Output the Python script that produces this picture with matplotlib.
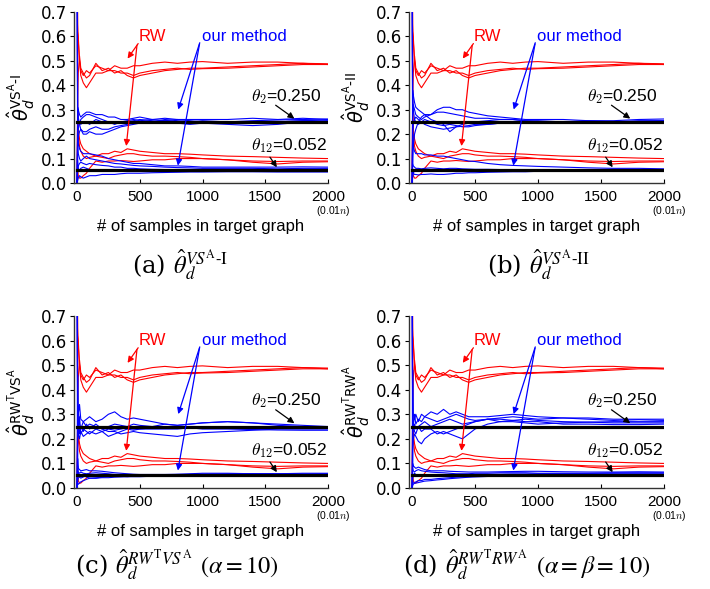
import matplotlib
matplotlib.use("Agg")
import matplotlib.pyplot as plt

SANS = ['Liberation Sans', 'DejaVu Sans']
WIDE = ['DejaVu Sans']
SERIF = ['DejaVu Serif']

X = [1, 5, 10, 20, 30, 50, 75, 100, 150, 200, 250, 300, 350, 400, 450, 500,
     600, 700, 800, 900, 1000, 1200, 1400, 1600, 1800, 2000]

THETA2 = 0.250
THETA12 = 0.052

# RW estimates (same in all four panels)
RW_HIGH = [
    [1.0, 0.65, 0.58, 0.5, 0.46, 0.44, 0.46, 0.45, 0.48, 0.47, 0.46, 0.48, 0.47, 0.47, 0.48, 0.48, 0.49, 0.495, 0.49, 0.495, 0.497, 0.49, 0.495, 0.495, 0.49, 0.488],
    [0.0, 0.35, 0.45, 0.52, 0.47, 0.45, 0.43, 0.44, 0.49, 0.46, 0.47, 0.45, 0.46, 0.44, 0.43, 0.44, 0.45, 0.46, 0.465, 0.47, 0.47, 0.475, 0.48, 0.485, 0.49, 0.485],
    [1.0, 0.62, 0.6, 0.5, 0.44, 0.41, 0.39, 0.41, 0.45, 0.45, 0.46, 0.46, 0.45, 0.45, 0.44, 0.45, 0.46, 0.465, 0.47, 0.465, 0.468, 0.47, 0.475, 0.48, 0.485, 0.485],
]
RW_LOW = [
    [0.0, 0.3, 0.22, 0.18, 0.16, 0.14, 0.13, 0.12, 0.11, 0.12, 0.12, 0.13, 0.125, 0.14, 0.135, 0.13, 0.125, 0.12, 0.12, 0.118, 0.115, 0.11, 0.108, 0.105, 0.102, 0.1],
    [1.0, 0.25, 0.2, 0.15, 0.13, 0.11, 0.1, 0.105, 0.11, 0.105, 0.1, 0.11, 0.115, 0.12, 0.12, 0.115, 0.11, 0.11, 0.108, 0.105, 0.1, 0.095, 0.09, 0.088, 0.09, 0.09],
    [0.0, 0.05, 0.03, 0.02, 0.02, 0.03, 0.04, 0.06, 0.09, 0.085, 0.09, 0.09, 0.092, 0.09, 0.088, 0.09, 0.095, 0.095, 0.1, 0.1, 0.1, 0.095, 0.085, 0.078, 0.085, 0.087],
]

# our method, panel (a)
A_HIGH = [
    [0.0, 0.31, 0.3, 0.28, 0.27, 0.28, 0.29, 0.29, 0.28, 0.28, 0.27, 0.27, 0.26, 0.26, 0.265, 0.27, 0.26, 0.265, 0.26, 0.26, 0.26, 0.26, 0.265, 0.26, 0.265, 0.26],
    [1.0, 0.28, 0.25, 0.24, 0.26, 0.27, 0.28, 0.28, 0.27, 0.26, 0.25, 0.24, 0.25, 0.255, 0.26, 0.255, 0.26, 0.255, 0.25, 0.25, 0.255, 0.25, 0.255, 0.258, 0.26, 0.262],
    [0.0, 0.2, 0.22, 0.25, 0.24, 0.25, 0.25, 0.24, 0.26, 0.25, 0.25, 0.25, 0.245, 0.25, 0.255, 0.26, 0.255, 0.25, 0.245, 0.24, 0.245, 0.24, 0.235, 0.24, 0.25, 0.255],
    [1.0, 0.3, 0.27, 0.24, 0.22, 0.21, 0.21, 0.22, 0.23, 0.22, 0.22, 0.23, 0.235, 0.24, 0.245, 0.25, 0.25, 0.26, 0.255, 0.25, 0.25, 0.245, 0.25, 0.25, 0.255, 0.258],
    [0.0, 0.15, 0.19, 0.21, 0.22, 0.2, 0.2, 0.21, 0.2, 0.2, 0.21, 0.22, 0.23, 0.235, 0.24, 0.245, 0.25, 0.255, 0.26, 0.255, 0.25, 0.25, 0.245, 0.25, 0.255, 0.25],
]
A_LOW = [
    [0.0, 0.2, 0.16, 0.14, 0.13, 0.12, 0.12, 0.12, 0.115, 0.11, 0.1, 0.095, 0.09, 0.085, 0.08, 0.08, 0.075, 0.07, 0.07, 0.068, 0.065, 0.065, 0.065, 0.065, 0.066, 0.065],
    [1.0, 0.15, 0.12, 0.1, 0.09, 0.1, 0.11, 0.1, 0.095, 0.09, 0.085, 0.08, 0.078, 0.075, 0.072, 0.07, 0.068, 0.065, 0.063, 0.062, 0.06, 0.06, 0.06, 0.058, 0.06, 0.06],
    [0.0, 0.05, 0.07, 0.08, 0.085, 0.08, 0.075, 0.08, 0.075, 0.072, 0.07, 0.065, 0.065, 0.06, 0.06, 0.058, 0.056, 0.055, 0.055, 0.054, 0.053, 0.054, 0.055, 0.055, 0.056, 0.056],
    [1.0, 0.1, 0.06, 0.05, 0.06, 0.065, 0.06, 0.055, 0.05, 0.05, 0.048, 0.05, 0.052, 0.05, 0.05, 0.05, 0.05, 0.05, 0.05, 0.05, 0.05, 0.05, 0.05, 0.049, 0.05, 0.05],
    [0.0, 0.01, 0.02, 0.03, 0.025, 0.02, 0.025, 0.03, 0.03, 0.035, 0.035, 0.035, 0.038, 0.04, 0.04, 0.04, 0.042, 0.043, 0.044, 0.045, 0.045, 0.046, 0.046, 0.045, 0.045, 0.045],
]

# panel (b)
B_HIGH = [
    [0.0, 0.38, 0.36, 0.33, 0.31, 0.3, 0.29, 0.28, 0.28, 0.3, 0.31, 0.31, 0.3, 0.3, 0.29, 0.285, 0.275, 0.27, 0.265, 0.26, 0.26, 0.26, 0.255, 0.255, 0.26, 0.262],
    [1.0, 0.3, 0.32, 0.3, 0.28, 0.27, 0.26, 0.27, 0.28, 0.29, 0.29, 0.285, 0.28, 0.275, 0.27, 0.265, 0.265, 0.26, 0.26, 0.255, 0.255, 0.25, 0.25, 0.25, 0.255, 0.255],
    [0.0, 0.1, 0.15, 0.2, 0.22, 0.25, 0.27, 0.28, 0.26, 0.25, 0.24, 0.21, 0.23, 0.24, 0.245, 0.25, 0.255, 0.26, 0.26, 0.255, 0.25, 0.25, 0.255, 0.25, 0.25, 0.25],
    [1.0, 0.35, 0.3, 0.26, 0.25, 0.24, 0.25, 0.26, 0.25, 0.24, 0.235, 0.24, 0.235, 0.23, 0.23, 0.235, 0.24, 0.245, 0.25, 0.25, 0.25, 0.245, 0.245, 0.248, 0.25, 0.25],
    [0.0, 0.2, 0.24, 0.26, 0.27, 0.26, 0.25, 0.24, 0.23, 0.225, 0.22, 0.225, 0.23, 0.232, 0.235, 0.24, 0.24, 0.245, 0.245, 0.25, 0.25, 0.25, 0.25, 0.25, 0.252, 0.255],
]
B_LOW = [
    [0.0, 0.2, 0.15, 0.13, 0.12, 0.12, 0.12, 0.115, 0.115, 0.11, 0.11, 0.105, 0.1, 0.095, 0.09, 0.088, 0.08, 0.075, 0.072, 0.07, 0.068, 0.065, 0.062, 0.06, 0.06, 0.058],
    [1.0, 0.08, 0.07, 0.065, 0.06, 0.06, 0.058, 0.06, 0.062, 0.06, 0.058, 0.06, 0.06, 0.058, 0.057, 0.056, 0.056, 0.055, 0.055, 0.055, 0.055, 0.054, 0.054, 0.054, 0.055, 0.055],
    [0.0, 0.02, 0.04, 0.05, 0.05, 0.052, 0.05, 0.05, 0.05, 0.048, 0.05, 0.05, 0.05, 0.051, 0.052, 0.052, 0.052, 0.053, 0.053, 0.052, 0.052, 0.052, 0.052, 0.052, 0.052, 0.053],
    [1.0, 0.05, 0.04, 0.035, 0.035, 0.033, 0.035, 0.035, 0.037, 0.035, 0.035, 0.037, 0.04, 0.04, 0.042, 0.042, 0.044, 0.045, 0.046, 0.046, 0.048, 0.048, 0.048, 0.05, 0.05, 0.05],
]

# panel (c)
C_HIGH = [
    [0.0, 0.46, 0.3, 0.34, 0.28, 0.27, 0.28, 0.29, 0.27, 0.28, 0.3, 0.31, 0.29, 0.28, 0.285, 0.28, 0.27, 0.26, 0.255, 0.26, 0.265, 0.27, 0.265, 0.26, 0.255, 0.25],
    [1.0, 0.3, 0.32, 0.26, 0.24, 0.27, 0.25, 0.26, 0.25, 0.24, 0.25, 0.26, 0.255, 0.25, 0.26, 0.255, 0.25, 0.26, 0.255, 0.26, 0.265, 0.27, 0.265, 0.255, 0.25, 0.248],
    [0.0, 0.2, 0.25, 0.29, 0.22, 0.24, 0.23, 0.22, 0.24, 0.23, 0.21, 0.22, 0.23, 0.24, 0.235, 0.24, 0.245, 0.25, 0.25, 0.25, 0.25, 0.245, 0.245, 0.25, 0.25, 0.245],
    [1.0, 0.35, 0.28, 0.22, 0.25, 0.23, 0.26, 0.24, 0.26, 0.24, 0.23, 0.23, 0.22, 0.225, 0.23, 0.225, 0.22, 0.215, 0.21, 0.22, 0.225, 0.23, 0.235, 0.24, 0.24, 0.24],
    [0.0, 0.28, 0.22, 0.2, 0.23, 0.21, 0.22, 0.23, 0.22, 0.23, 0.24, 0.235, 0.24, 0.245, 0.24, 0.24, 0.24, 0.24, 0.24, 0.245, 0.24, 0.24, 0.238, 0.236, 0.235, 0.235],
]
C_LOW = [
    [0.0, 0.12, 0.08, 0.075, 0.07, 0.072, 0.075, 0.07, 0.07, 0.068, 0.065, 0.062, 0.06, 0.058, 0.056, 0.055, 0.055, 0.055, 0.056, 0.058, 0.06, 0.06, 0.058, 0.056, 0.055, 0.055],
    [1.0, 0.06, 0.065, 0.06, 0.065, 0.06, 0.058, 0.06, 0.062, 0.06, 0.058, 0.055, 0.055, 0.053, 0.052, 0.05, 0.052, 0.053, 0.055, 0.055, 0.056, 0.057, 0.058, 0.058, 0.057, 0.058],
    [0.0, 0.03, 0.04, 0.045, 0.04, 0.045, 0.05, 0.048, 0.045, 0.045, 0.047, 0.048, 0.05, 0.05, 0.05, 0.05, 0.05, 0.051, 0.052, 0.052, 0.052, 0.052, 0.053, 0.053, 0.054, 0.054],
    [1.0, 0.02, 0.015, 0.02, 0.025, 0.03, 0.035, 0.04, 0.04, 0.042, 0.042, 0.044, 0.045, 0.046, 0.046, 0.046, 0.048, 0.048, 0.048, 0.05, 0.05, 0.05, 0.05, 0.05, 0.05, 0.05],
    [0.0, 0.09, 0.06, 0.05, 0.055, 0.05, 0.045, 0.04, 0.04, 0.045, 0.05, 0.05, 0.048, 0.046, 0.048, 0.05, 0.052, 0.052, 0.053, 0.055, 0.055, 0.056, 0.057, 0.058, 0.06, 0.06],
]

# panel (d)
D_HIGH = [
    [0.0, 0.48, 0.3, 0.28, 0.3, 0.27, 0.3, 0.29, 0.31, 0.3, 0.32, 0.3, 0.31, 0.3, 0.29, 0.29, 0.29, 0.295, 0.3, 0.295, 0.29, 0.285, 0.285, 0.28, 0.28, 0.28],
    [1.0, 0.28, 0.25, 0.3, 0.26, 0.28, 0.27, 0.29, 0.28, 0.27, 0.28, 0.29, 0.3, 0.29, 0.28, 0.275, 0.28, 0.285, 0.29, 0.285, 0.28, 0.285, 0.28, 0.275, 0.278, 0.275],
    [0.0, 0.2, 0.24, 0.26, 0.24, 0.25, 0.26, 0.27, 0.25, 0.26, 0.27, 0.28, 0.27, 0.26, 0.265, 0.27, 0.28, 0.27, 0.275, 0.28, 0.275, 0.27, 0.268, 0.27, 0.27, 0.27],
    [1.0, 0.3, 0.26, 0.23, 0.22, 0.25, 0.23, 0.24, 0.24, 0.22, 0.23, 0.22, 0.21, 0.2, 0.22, 0.24, 0.26, 0.27, 0.27, 0.265, 0.26, 0.265, 0.268, 0.265, 0.265, 0.265],
    [0.0, 0.15, 0.2, 0.22, 0.21, 0.19, 0.18, 0.2, 0.22, 0.23, 0.22, 0.23, 0.24, 0.25, 0.26, 0.27, 0.28, 0.28, 0.275, 0.27, 0.27, 0.26, 0.26, 0.258, 0.258, 0.26],
]
D_LOW = [
    [0.0, 0.1, 0.09, 0.085, 0.08, 0.085, 0.08, 0.075, 0.07, 0.07, 0.07, 0.068, 0.067, 0.066, 0.065, 0.065, 0.065, 0.066, 0.067, 0.068, 0.068, 0.066, 0.065, 0.065, 0.066, 0.065],
    [1.0, 0.08, 0.07, 0.065, 0.07, 0.075, 0.07, 0.068, 0.065, 0.063, 0.062, 0.06, 0.058, 0.058, 0.058, 0.06, 0.06, 0.062, 0.062, 0.062, 0.06, 0.06, 0.06, 0.062, 0.062, 0.062],
    [0.0, 0.04, 0.05, 0.06, 0.055, 0.05, 0.052, 0.05, 0.05, 0.052, 0.05, 0.05, 0.052, 0.053, 0.054, 0.055, 0.055, 0.056, 0.057, 0.057, 0.058, 0.058, 0.058, 0.058, 0.058, 0.058],
    [1.0, 0.03, 0.02, 0.02, 0.025, 0.03, 0.03, 0.035, 0.035, 0.038, 0.04, 0.042, 0.044, 0.045, 0.046, 0.048, 0.05, 0.05, 0.05, 0.052, 0.052, 0.053, 0.054, 0.055, 0.055, 0.055],
    [0.0, 0.01, 0.015, 0.02, 0.02, 0.022, 0.025, 0.028, 0.03, 0.033, 0.035, 0.038, 0.04, 0.042, 0.044, 0.045, 0.047, 0.05, 0.05, 0.05, 0.05, 0.052, 0.052, 0.052, 0.053, 0.053],
]

YLABELS = [r'$\hat{\theta}_d^{\rm VS^{A}\text{-}I}$',
           r'$\hat{\theta}_d^{\rm VS^{A}\text{-}II}$',
           r'$\hat{\theta}_d^{\rm RW^{T}VS^{A}}$',
           r'$\hat{\theta}_d^{\rm RW^{T}RW^{A}}$']
CAPTIONS = [r'(a) $\hat{\theta}_d^{VS^{\rm A}\text{-}{\rm I}}$',
            r'(b) $\hat{\theta}_d^{VS^{\rm A}\text{-}{\rm II}}$',
            r'(c) $\hat{\theta}_d^{RW^{\rm T}VS^{\rm A}}$ $(\alpha=10)$',
            r'(d) $\hat{\theta}_d^{RW^{\rm T}RW^{\rm A}}$ $(\alpha=\beta=10)$']
BLUE = [(A_HIGH, A_LOW), (B_HIGH, B_LOW), (C_HIGH, C_LOW), (D_HIGH, D_LOW)]

# axes boxes in pixels: left, top, right, bottom (figure 710x589)
W, H = 710, 589
BOXES = [(74, 12, 328, 183), (409, 12, 664, 183),
         (74, 316, 328, 488), (409, 316, 664, 488)]
CAP_POS = [(180, 265), (538, 265), (177, 565), (527, 565)]

fig = plt.figure(figsize=(W / 100, H / 100), dpi=100)

for i in range(4):
    l, t, r, b = BOXES[i]
    ax = fig.add_axes([l / W, 1 - b / H, (r - l) / W, (b - t) / H])
    red = '#ff0000'
    blue = '#0000ff'
    for ys in RW_HIGH + RW_LOW:
        ax.plot(X, ys, color=red, lw=0.8)
    hi, lo = BLUE[i]
    for ys in hi + lo:
        ax.plot(X, ys, color=blue, lw=0.8)
    ax.plot([0, 2000], [THETA2, THETA2], color='black', lw=2.3)
    ax.plot([0, 2000], [THETA12, THETA12], color='black', lw=2.3)

    ax.set_xlim(-24, 2000)
    ax.set_ylim(0, 0.7)
    ax.set_xticks([0, 500, 1000, 1500, 2000])
    ax.set_yticks([0, 0.1, 0.2, 0.3, 0.4, 0.5, 0.6, 0.7])
    ax.set_yticklabels([f'{v:.1f}' for v in ax.get_yticks()], family=WIDE, fontsize=12)
    ax.set_xticklabels(['0', '500', '1000', '1500', '2000'], family=SANS, fontsize=11)
    ax.tick_params(axis='x', direction='in', length=3, pad=5)
    ax.tick_params(axis='y', direction='out', length=3, pad=2)
    for s in ('top', 'right'):
        ax.spines[s].set_visible(False)
    for s in ('left', 'bottom'):
        ax.spines[s].set_color('#333333')
        ax.spines[s].set_linewidth(1.0)

    ax.set_ylabel(YLABELS[i], fontsize=14, math_fontfamily='dejavusans')
    ax.yaxis.set_label_coords(-0.145, 0.5)
    ax.text(0.5, -0.255, '# of samples in target graph', transform=ax.transAxes,
            ha='center', va='center', family=SANS, fontsize=12)
    ax.text(1.02, -0.165, r'(0.01$n$)', transform=ax.transAxes, ha='center',
            va='center', family=SANS, fontsize=7.5, math_fontfamily='cm')

    # annotations
    ax.text(600, 0.6, 'RW', color=red, family=SANS, fontsize=12, ha='center', va='center')
    ax.annotate('', xy=(390, 0.5), xytext=(500, 0.58),
                arrowprops=dict(arrowstyle='-|>', color=red, lw=0.9, mutation_scale=9))
    ax.annotate('', xy=(390, 0.14), xytext=(480, 0.575),
                arrowprops=dict(arrowstyle='-|>', color=red, lw=0.9, mutation_scale=9))
    ax.text(1330, 0.6, 'our method', color=blue, family=SANS, fontsize=12, ha='center', va='center')
    ax.annotate('', xy=(800, 0.29), xytext=(985, 0.585),
                arrowprops=dict(arrowstyle='-|>', color=blue, lw=0.9, mutation_scale=9))
    ax.annotate('', xy=(800, 0.06), xytext=(980, 0.58),
                arrowprops=dict(arrowstyle='-|>', color=blue, lw=0.9, mutation_scale=9))
    ax.text(1665, 0.355, r'$\theta_2$=0.250', family=SANS, fontsize=12.5, ha='center',
            va='center', math_fontfamily='cm')
    ax.annotate('', xy=(1750, 0.257), xytext=(1565, 0.325),
                arrowprops=dict(arrowstyle='-|>', color='black', lw=0.9, mutation_scale=9))
    ax.text(1690, 0.152, r'$\theta_{12}$=0.052', family=SANS, fontsize=12.5, ha='center',
            va='center', math_fontfamily='cm')
    ax.annotate('', xy=(1605, 0.055), xytext=(1525, 0.115),
                arrowprops=dict(arrowstyle='-|>', color='black', lw=0.9, mutation_scale=9))

    cx, cy = CAP_POS[i]
    fig.text(cx / W, 1 - cy / H, CAPTIONS[i], ha='center', va='center',
             family=SERIF, fontsize=17.5, math_fontfamily='stix')

fig.savefig('out.png', dpi=100)
